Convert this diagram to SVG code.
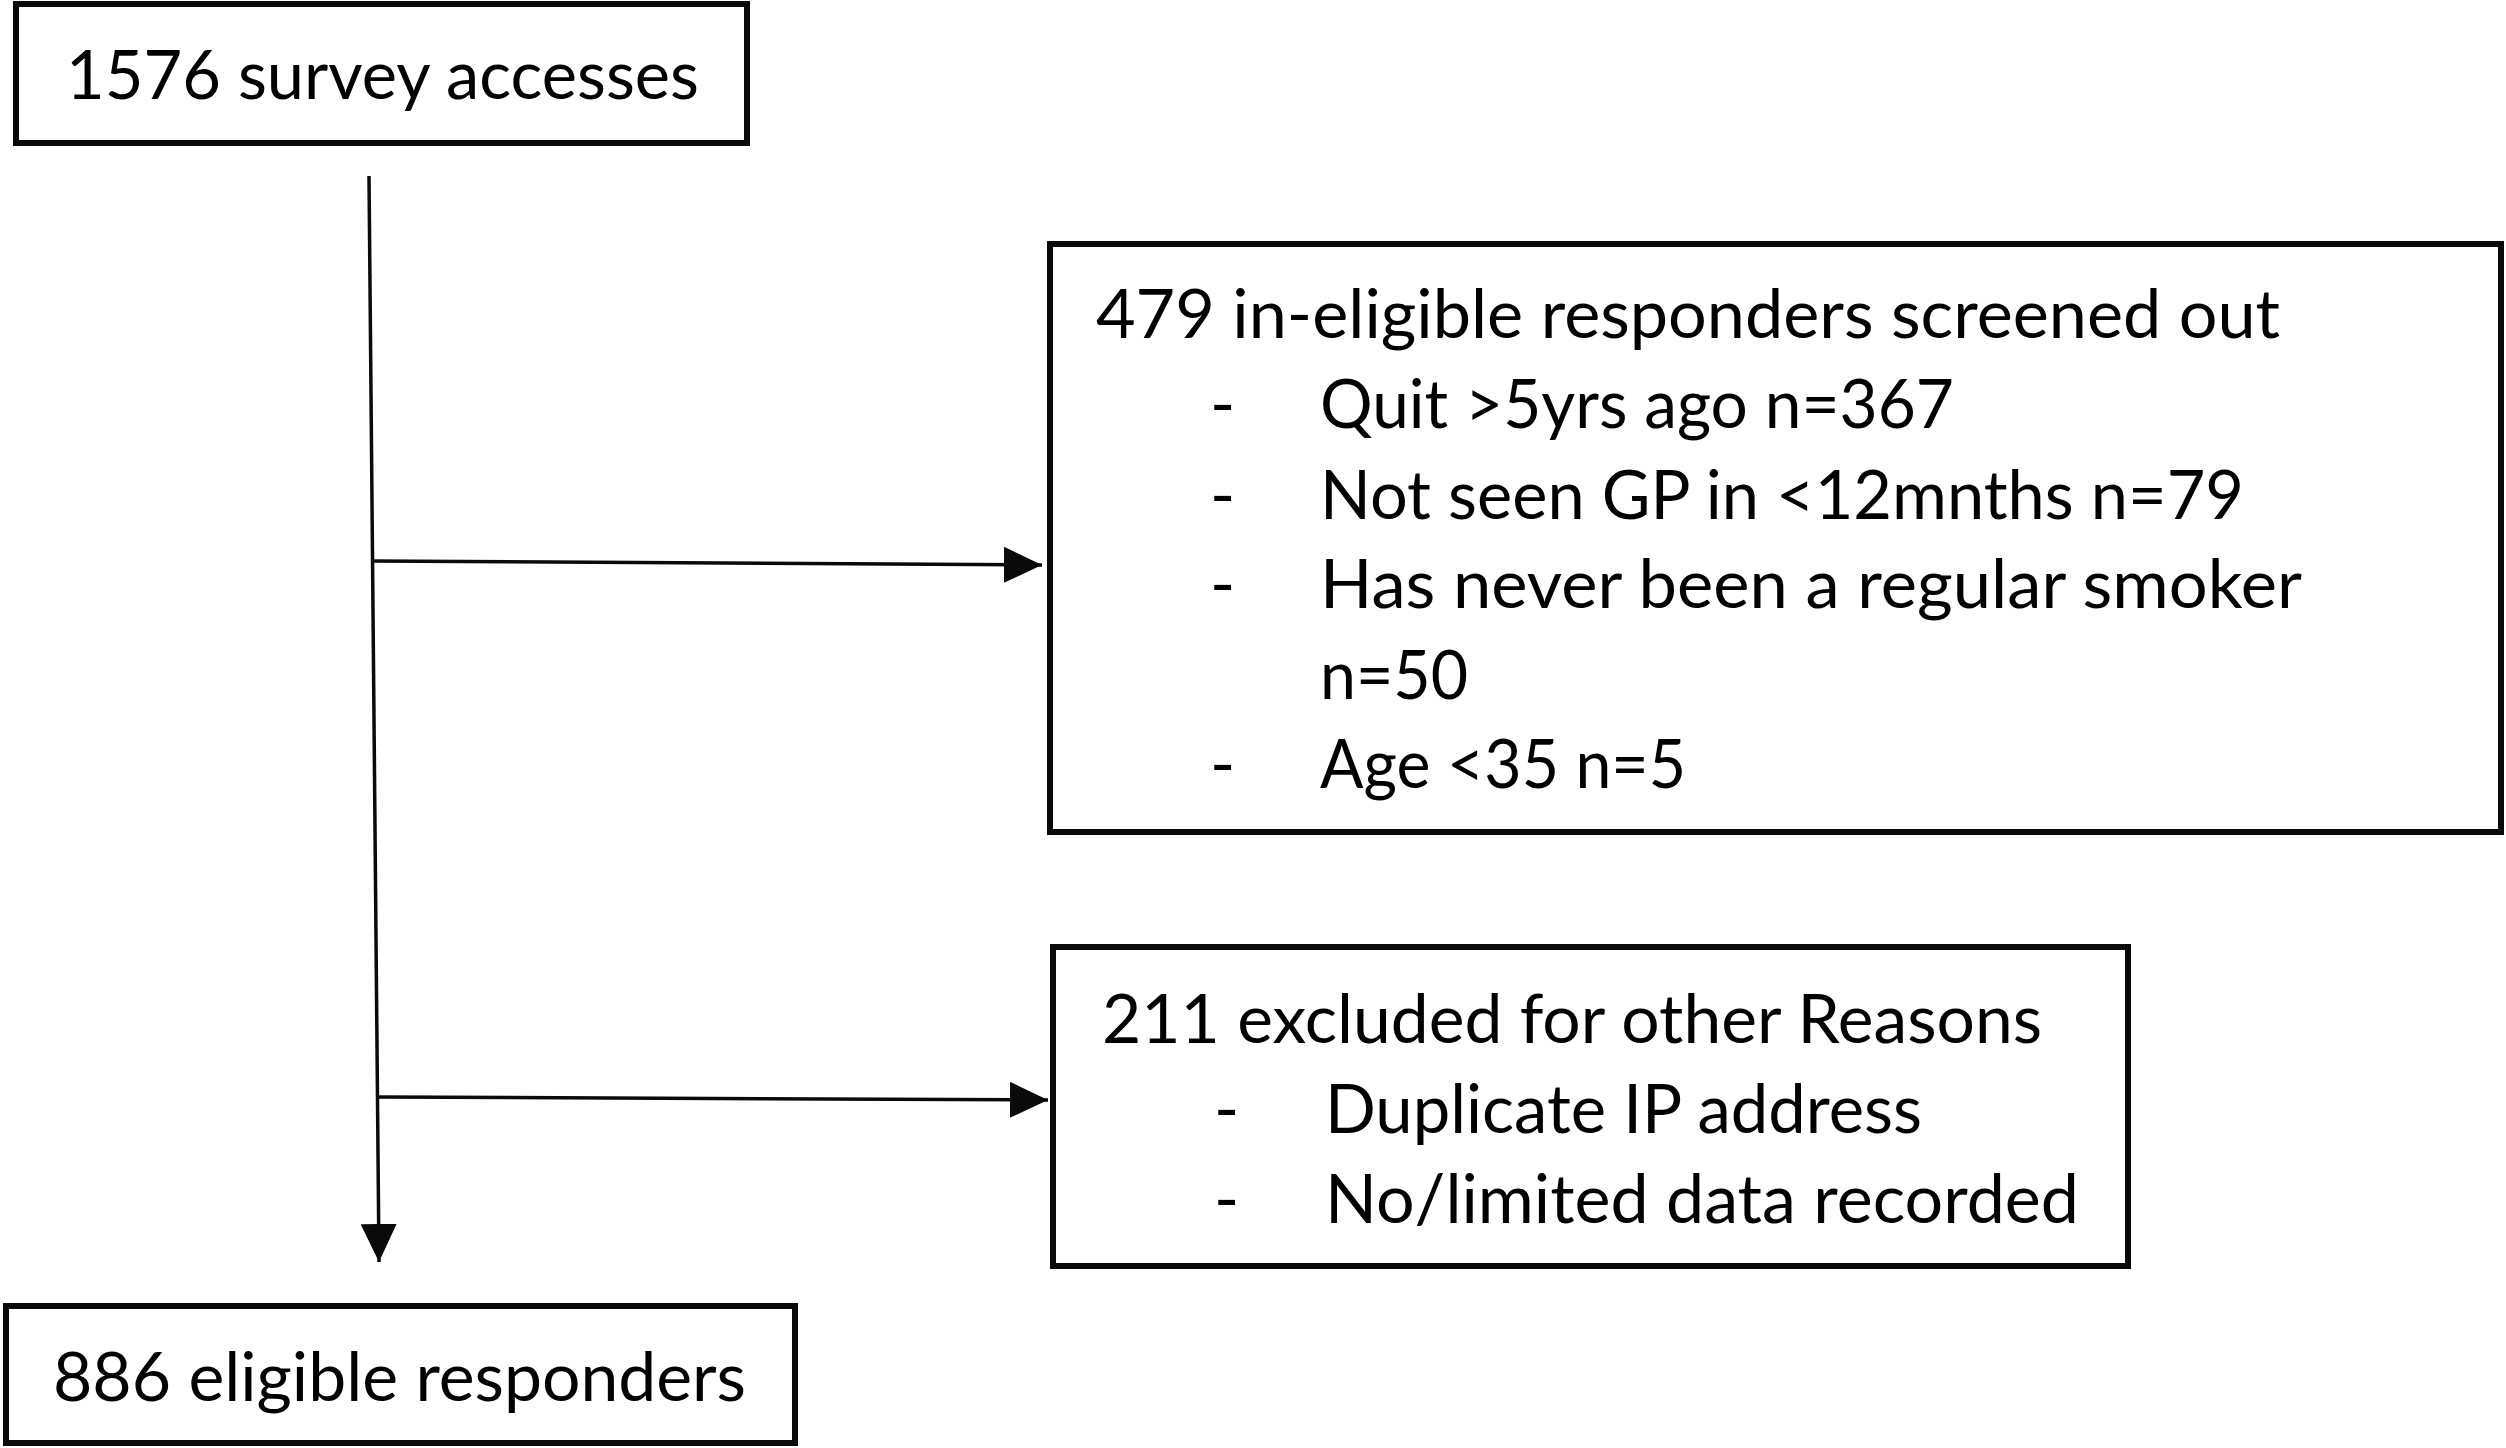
<svg xmlns="http://www.w3.org/2000/svg" width="2506" height="1448" viewBox="0 0 2506 1448">
<defs>
<marker id="arr" viewBox="0 0 38 36" refX="38" refY="18" markerWidth="38" markerHeight="36" markerUnits="userSpaceOnUse" orient="auto">
<path d="M0,0 L38,18 L0,36 z" fill="#0a0a0a"/>
</marker>
<style>
.box{fill:#fff;stroke:#0a0a0a;stroke-width:6}
.t{font-family:Lato,"Open Sans","Liberation Sans",sans-serif;font-size:68px;fill:#000}
.c{fill:none;stroke:#0a0a0a;stroke-width:3.5;marker-end:url(#arr)}
</style>
</defs>
<rect width="2506" height="1448" fill="#fff"/>
<g id="connectors">
<line class="c" x1="369" y1="176" x2="379" y2="1262"/>
<line class="c" x1="371" y1="561" x2="1042" y2="565"/>
<line class="c" x1="377" y1="1097" x2="1048" y2="1100"/>
</g>
<g id="n1">
<rect class="box" x="16" y="4" width="731" height="139"/>
<text class="t" x="66" y="99" textLength="633" lengthAdjust="spacingAndGlyphs">1576 survey accesses</text>
</g>
<g id="n2">
<rect class="box" x="1050" y="244" width="1451" height="588"/>
<text class="t" x="1096" y="338" textLength="1184" lengthAdjust="spacingAndGlyphs">479 in-eligible responders screened out</text>
<text class="t" x="1210" y="428">-</text>
<text class="t" x="1320" y="428" textLength="634" lengthAdjust="spacingAndGlyphs">Quit &gt;5yrs ago n=367</text>
<text class="t" x="1210" y="519">-</text>
<text class="t" x="1320" y="519" textLength="924" lengthAdjust="spacingAndGlyphs">Not seen GP in &lt;12mnths n=79</text>
<text class="t" x="1210" y="608">-</text>
<text class="t" x="1320" y="608" textLength="982" lengthAdjust="spacingAndGlyphs">Has never been a regular smoker</text>
<text class="t" x="1320" y="699" textLength="148" lengthAdjust="spacingAndGlyphs">n=50</text>
<text class="t" x="1210" y="788">-</text>
<text class="t" x="1320" y="788" textLength="366" lengthAdjust="spacingAndGlyphs">Age &lt;35 n=5</text>
</g>
<g id="n3">
<rect class="box" x="1053" y="947" width="1075" height="319"/>
<text class="t" x="1102" y="1043" textLength="940" lengthAdjust="spacingAndGlyphs">211 excluded for other Reasons</text>
<text class="t" x="1214" y="1133">-</text>
<text class="t" x="1325" y="1133" textLength="597" lengthAdjust="spacingAndGlyphs">Duplicate IP address</text>
<text class="t" x="1214" y="1223">-</text>
<text class="t" x="1325" y="1223" textLength="754" lengthAdjust="spacingAndGlyphs">No/limited data recorded</text>
</g>
<g id="n4">
<rect class="box" x="6" y="1306" width="789" height="137"/>
<text class="t" x="53" y="1401" textLength="693" lengthAdjust="spacingAndGlyphs">886 eligible responders</text>
</g>
</svg>
